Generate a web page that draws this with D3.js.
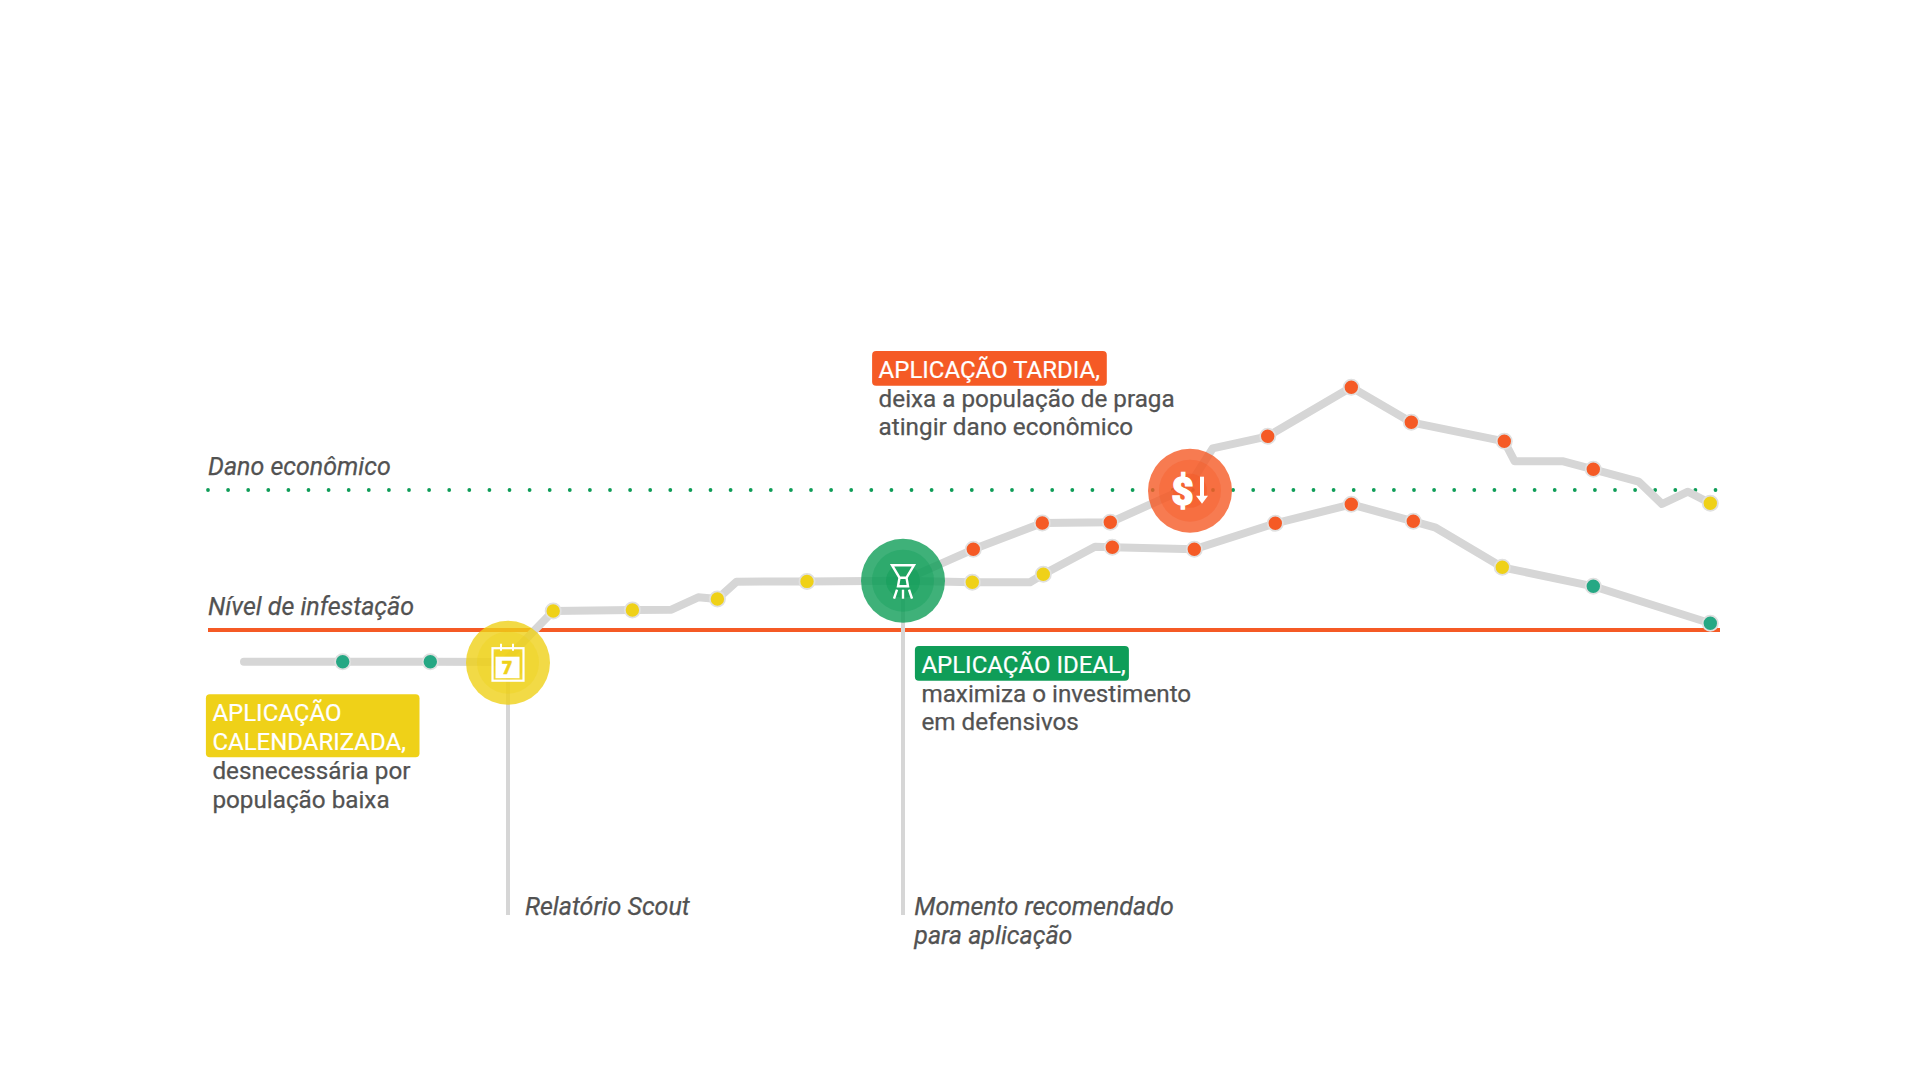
<!DOCTYPE html>
<html><head><meta charset="utf-8">
<script src="https://cdnjs.cloudflare.com/ajax/libs/d3/7.8.5/d3.min.js"></script>
<style>html,body{margin:0;padding:0;background:#fff;overflow:hidden}svg{display:block}text{font-family:Roboto,sans-serif}</style>
</head><body><svg id="c" width="1920" height="1080"></svg>
<script>
// time runs 0..1470, population is measured from the infestation level (0) to economic damage (140)
const trunk = [[4,-31.7],[102.7,-31.7],[190.3,-31.7],[264,-32],[313.2,19],[392.4,20],[431.4,20.3],[458.2,32.7],[477.4,31],[496.5,48.3],[567,48.6],[662.7,49.3]];
const lateBranch = [[662.7,49.3],[733.3,80.7],[802.3,107],[870.3,107.7],[948,142.5],[972.7,181.7],[1027.7,193.7],[1111.3,242.7],[1171.3,207.7],[1264.3,188.7],[1274.7,168.7],[1323.3,168.7],[1353.3,160.7],[1398.7,148.3],[1422,126],[1448,138.3],[1470.3,126.7]];
const idealBranch = [[662.7,49.3],[732.3,47.7],[790,47.7],[803.3,55.7],[855,83.3],[872.3,82.7],[954.3,80.7],[1035.3,106.7],[1111.3,125.7],[1173.3,108.7],[1195.7,102.3],[1262.3,62.7],[1353.3,43.7],[1470.3,6.7]];
const tealPoints = [[102.7,-31.7],[190.3,-31.7],[1353.3,43.7],[1470.3,6.7]];
const yellowPoints = [[313.2,19],[392.4,20],[477.4,31],[567,48.6],[732.3,47.7],[803.3,55.7],[1262.3,62.7],[1470.3,126.7]];
const redPoints = [[733.3,80.7],[802.3,107],[870.3,107.7],[1027.7,193.7],[1111.3,242.7],[1171.3,207.7],[1264.3,188.7],[1353.3,160.7],[872.3,82.7],[954.3,80.7],[1035.3,106.7],[1111.3,125.7],[1173.3,108.7]];
const damageDots = d3.range(-32, 1477, 20.1);
const thresholdExtent = [-32, 1480];
const applications = [
  {t:268, p:-32.7, color:"#efd118", icon:"calendar", drop:-285},
  {t:663, p:49.3,  color:"#0f9d58", icon:"sprayer",  drop:-285},
  {t:950, p:139.3, color:"#f55a25", icon:"money",    drop:null}
];
const rings = [42, 31, 17];
const notes = [
  {t:-27.6, p:-91, fill:"#efd118", head:["APLICAÇÃO","CALENDARIZADA,"], body:["desnecessária por","população baixa"], w:213.6},
  {t:681.4, p:-42.7, fill:"#0f9d58", head:["APLICAÇÃO IDEAL,"], body:["maximiza o investimento","em defensivos"], w:214},
  {t:638.6, p:252.3, fill:"#f55a25", head:["APLICAÇÃO TARDIA,"], body:["deixa a população de praga","atingir dano econômico"], w:234.7}
];
const axisLabels = [
  {t:-32, p:154.7, text:"Dano econômico"},
  {t:-32, p:15, text:"Nível de infestação"},
  {t:285, p:-285.3, text:"Relatório Scout"},
  {t:674.3, p:-285.3, text:"Momento recomendado"},
  {t:674.3, p:-314.3, text:"para aplicação"}
];

const x = d3.scaleLinear().domain([0,1470]).range([240,1710]);
const y = d3.scaleLinear().domain([0,140]).range([630,490]);
const svg = d3.select("#c");
const TEXT = "#525252", GREY = "#d6d6d6", RED = "#f55a25";

// threshold lines
svg.append("g").selectAll("circle").data(damageDots).join("circle")
  .attr("cx",d=>x(d)).attr("cy",y(140)).attr("r",1.9).attr("fill","#0f9d58");
svg.append("line").attr("x1",x(thresholdExtent[0])).attr("x2",x(thresholdExtent[1]))
  .attr("y1",y(0)).attr("y2",y(0)).attr("stroke",RED).attr("stroke-width",4);

// verticals
svg.append("g").selectAll("line").data(applications.filter(a=>a.drop!==null)).join("line")
  .attr("x1",d=>x(d.t)).attr("x2",d=>x(d.t)).attr("y1",d=>y(d.p)).attr("y2",d=>y(d.drop))
  .attr("stroke",GREY).attr("stroke-width",4);

// curves
const line = d3.line().x(d=>x(d[0])).y(d=>y(d[1]));
svg.append("g").selectAll("path").data([trunk,lateBranch,idealBranch]).join("path")
  .attr("d",line).attr("fill","none").attr("stroke",GREY).attr("stroke-width",8)
  .attr("stroke-linecap","round").attr("stroke-linejoin","round");

// points
[[tealPoints,"#26a884"],[yellowPoints,"#efd118"],[redPoints,RED]].forEach(([pts,col])=>{
  svg.append("g").selectAll("circle").data(pts).join("circle")
    .attr("cx",d=>x(d[0])).attr("cy",d=>y(d[1])).attr("r",7.6).attr("fill",col)
    .attr("stroke","#e0e0e0").attr("stroke-width",1.8);
});

// application badges
const badge = svg.append("g").selectAll("g").data(applications).join("g")
  .attr("transform",d=>`translate(${x(d.t)},${y(d.p)})`);
badge.each(function(d){
  const g = d3.select(this);
  g.selectAll("circle").data(rings).join("circle").attr("r",r=>r)
    .attr("fill",d.color).attr("fill-opacity",(r,i)=>i===0?0.8:(i===1?0.35:0.5));
  const W = "#fff";
  if(d.icon==="calendar"){
    g.append("rect").attr("x",-15.5).attr("y",-14.5).attr("width",31).attr("height",32.5).attr("fill","none").attr("stroke",W).attr("stroke-width",2.2);
    g.append("rect").attr("x",-12.5).attr("y",-6).attr("width",24).attr("height",21.5).attr("fill",W);
    g.selectAll("line.k").data([-7,5]).join("line").attr("x1",k=>k).attr("x2",k=>k).attr("y1",-19).attr("y2",-12).attr("stroke",W).attr("stroke-width",2);
    g.append("text").attr("x",-1).attr("y",11.5).attr("text-anchor","middle").attr("font-size",17.5).attr("font-weight",900).attr("fill",d.color).attr("stroke",d.color).attr("stroke-width",0.6).text("7");
  } else if(d.icon==="sprayer"){
    const s = d3.path();
    s.moveTo(-11,-15.5); s.lineTo(11,-15.5); s.lineTo(3.5,-3); s.lineTo(-3.5,-3); s.closePath();
    s.moveTo(-3.5,-3); s.lineTo(-5,5.5); s.lineTo(5,5.5); s.lineTo(3.5,-3);
    g.append("path").attr("d",s.toString()).attr("fill","none").attr("stroke",W).attr("stroke-width",2.4).attr("stroke-linejoin","miter");
    g.selectAll("line.j").data([[-6,-9],[0,0],[6,9]]).join("line")
      .attr("x1",j=>j[0]).attr("x2",j=>j[1]).attr("y1",9).attr("y2",18).attr("stroke",W).attr("stroke-width",2.4);
  } else {
    g.append("text").attr("x",-7.5).attr("y",14).attr("text-anchor","middle").attr("font-size",38).attr("font-weight",900).attr("fill",W).attr("stroke",W).attr("stroke-width",1.4).text("$");
    const a = d3.path();
    a.moveTo(12,-14); a.lineTo(12,8);
    g.append("path").attr("d",a.toString()).attr("stroke",W).attr("stroke-width",4);
    const h = d3.path();
    h.moveTo(6,5); h.lineTo(18,5); h.lineTo(12,13); h.closePath();
    g.append("path").attr("d",h.toString()).attr("fill",W);
  }
});

// notes
const LH = 29, FS = 24;
const noteG = svg.append("g").selectAll("g").data(notes).join("g")
  .attr("transform",d=>`translate(${x(d.t)},${y(d.p)})`);
noteG.each(function(d){
  const g = d3.select(this);
  g.append("rect").attr("x",-6.5).attr("y",-26.7).attr("rx",4).attr("width",d.w)
    .attr("height",6.5+28.2*d.head.length).attr("fill",d.fill);
  d.head.forEach((s,i)=>g.append("text").attr("y",i*LH).attr("font-size",FS).attr("fill","#fff").attr("stroke","#fff").attr("stroke-width",0.2).text(s));
  d.body.forEach((s,i)=>g.append("text").attr("y",(i+d.head.length)*LH-(i?0.5:0)).attr("font-size",24.25).attr("fill",TEXT).attr("stroke",TEXT).attr("stroke-width",0.25).text(s));
});

// italic labels
svg.append("g").selectAll("text").data(axisLabels).join("text")
  .attr("x",d=>x(d.t)).attr("y",d=>y(d.p)).attr("font-size",25).attr("font-style","italic")
  .attr("fill",TEXT).attr("stroke",TEXT).attr("stroke-width",0.25).text(d=>d.text);
</script></body></html>
